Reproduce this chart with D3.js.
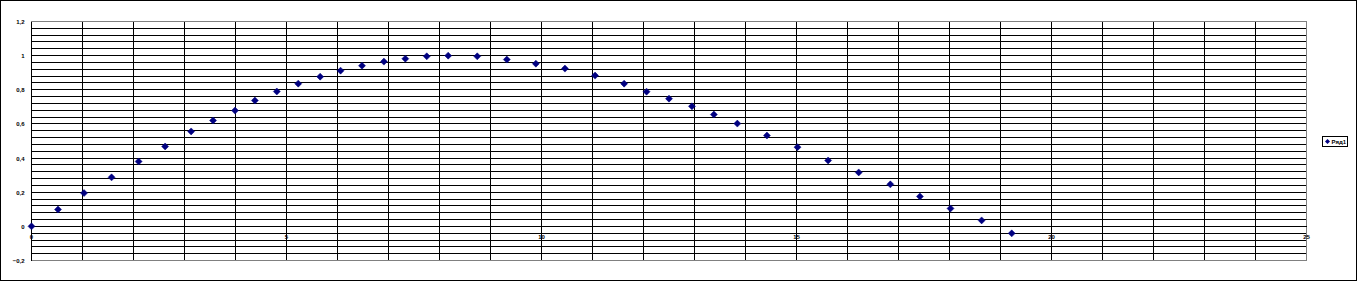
<!DOCTYPE html>
<html>
<head>
<meta charset="utf-8">
<script src="https://cdn.jsdelivr.net/npm/d3@7"></script>
<style>
  body { margin: 0; background: #fff; }
  svg { display: block; }
  line, rect { shape-rendering: crispEdges; }
</style>
</head>
<body>
<div id="chart"></div>
<script>
var xValues = [0, 0.52, 1.03, 1.57, 2.1, 2.62, 3.13, 3.56, 3.99, 4.38,
               4.81, 5.23, 5.66, 6.06, 6.48, 6.91, 7.33, 7.75, 8.17, 8.74,
               9.32, 9.89, 10.46, 11.05, 11.62, 12.06, 12.5, 12.95, 13.38, 13.84,
               14.42, 15.02, 15.62, 16.22, 16.84, 17.42, 18.02, 18.63, 19.22];
var yValues = [0, 0.099, 0.195, 0.287, 0.38, 0.468, 0.556, 0.62, 0.678, 0.737,
               0.79, 0.836, 0.877, 0.912, 0.941, 0.965, 0.982, 0.996, 1.0, 0.996,
               0.977, 0.953, 0.924, 0.883, 0.836, 0.789, 0.748, 0.703, 0.655, 0.602,
               0.532, 0.464, 0.386, 0.316, 0.246, 0.175, 0.105, 0.035, -0.041];
var xTicks = [0, 5, 10, 15, 20, 25];
var yTicks = [-0.2, 0, 0.2, 0.4, 0.6, 0.8, 1, 1.2];
var seriesName = 'Ряд1';

var width = 1358,
    height = 282;

var plot = { left: 31.5, right: 1306.5, top: 21.5, bottom: 260.5 };

var x = d3.scaleLinear().domain([0, 25]).range([plot.left, plot.right]);
var y = d3.scaleLinear().domain([-0.2, 1.2]).range([plot.bottom, plot.top]);

// snap to pixel rows so the 1px lines stay sharp
var sx = v => Math.floor(x(v)) + 0.5;
var sy = v => Math.floor(y(v)) + 0.5;

var fmt = v => d3.format('')(+v.toFixed(1)).replace('.', ',');

var svg = d3.select('#chart')
    .append('svg')
    .attr('width', width)
    .attr('height', height);

// chart frame
svg.append('rect')
    .attr('x', 0.5)
    .attr('y', 0.5)
    .attr('width', 1356)
    .attr('height', 280)
    .attr('fill', '#fff')
    .attr('stroke', '#000');

// grid: vertical every 1, horizontal every 0.04
var grid = svg.append('g');

grid.selectAll('line.v')
    .data(d3.range(1, 25))
    .enter()
    .append('line')
    .attr('class', 'v')
    .attr('x1', d => sx(d))
    .attr('x2', d => sx(d))
    .attr('y1', y(1.2))
    .attr('y2', y(-0.2))
    .attr('stroke', '#000');

grid.selectAll('line.h')
    .data(d3.range(1, 35).map(i => -0.2 + i * 0.04))
    .enter()
    .append('line')
    .attr('class', 'h')
    .attr('x1', x(0))
    .attr('x2', x(25))
    .attr('y1', d => sy(d))
    .attr('y2', d => sy(d))
    .attr('stroke', '#000');

// plot area border (grey)
svg.append('rect')
    .attr('x', x(0))
    .attr('y', y(1.2))
    .attr('width', x(25) - x(0))
    .attr('height', y(-0.2) - y(1.2))
    .attr('fill', 'none')
    .attr('stroke', '#808080');

// y axis line
svg.append('line')
    .attr('x1', x(0))
    .attr('x2', x(0))
    .attr('y1', y(1.2))
    .attr('y2', y(-0.2))
    .attr('stroke', '#000');

// x axis crosses at y = 0
svg.append('line')
    .attr('x1', x(0))
    .attr('x2', x(25))
    .attr('y1', sy(0))
    .attr('y2', sy(0))
    .attr('stroke', '#000');

// y tick labels
svg.append('g').selectAll('text')
    .data(yTicks)
    .enter()
    .append('text')
    .attr('x', x(0) - 7)
    .attr('y', d => sy(d) + 2)
    .attr('text-anchor', 'end')
    .attr('font-family', 'Arial, Liberation Sans, sans-serif')
    .style('font-size', '6px')
    .style('font-weight', 700)
    .attr('fill', '#000')
    .text(d => fmt(d));

// x tick labels, under the zero line
svg.append('g').selectAll('text')
    .data(xTicks)
    .enter()
    .append('text')
    .attr('x', d => sx(d))
    .attr('y', sy(0) + 12)
    .attr('text-anchor', 'middle')
    .attr('font-family', 'Arial, Liberation Sans, sans-serif')
    .style('font-size', '6px')
    .style('font-weight', 700)
    .attr('fill', '#000')
    .text(d => d);

var diamond = 'M0,-3.5L3.5,0L0,3.5L-3.5,0Z';

svg.append('g').selectAll('path')
    .data(d3.zip(xValues, yValues))
    .enter()
    .append('path')
    .attr('d', diamond)
    .attr('transform', d => 'translate(' + x(d[0]) + ',' + y(d[1]) + ')')
    .attr('fill', '#000080')
    .attr('stroke', '#000080')
    .attr('stroke-width', 0.5);

// legend
var legend = svg.append('g')
    .attr('transform', 'translate(1322.5,136.5)');

legend.append('rect')
    .attr('width', 25)
    .attr('height', 10)
    .attr('fill', '#fff')
    .attr('stroke', '#000');

legend.append('path')
    .attr('d', 'M0,-2.5L2.5,0L0,2.5L-2.5,0Z')
    .attr('transform', 'translate(5,5)')
    .attr('fill', '#000080');

legend.append('text')
    .attr('x', 9)
    .attr('y', 7)
    .attr('font-family', 'Arial, Liberation Sans, sans-serif')
    .style('font-size', '6px')
    .style('font-weight', 700)
    .attr('fill', '#000')
    .text(seriesName);
</script>
</body>
</html>
